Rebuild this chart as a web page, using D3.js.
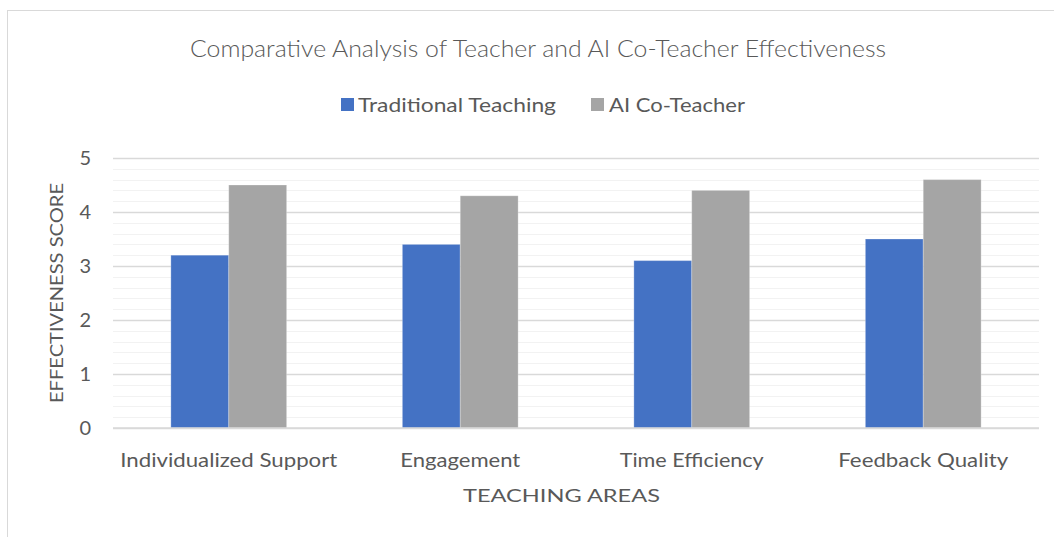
<!doctype html>
<html lang="en">
<head>
<meta charset="utf-8">
<title>Teacher vs AI Co-Teacher</title>
<script src="https://cdnjs.cloudflare.com/ajax/libs/d3/7.8.5/d3.min.js"></script>
<style>
  body { margin: 0; background: #fff; }
  svg { display: block; font-family: Lato, "Open Sans", sans-serif; }
</style>
</head>
<body>
<svg width="1054" height="537"></svg>
<script>
// data
const categories = ["Individualized Support", "Engagement", "Time Efficiency", "Feedback Quality"];
const seriesNames = ["Traditional Teaching", "AI Co-Teacher"];
const traditional = [3.2, 3.4, 3.1, 3.5];
const aiCoTeacher = [4.5, 4.3, 4.4, 4.6];
const yTicks = [0, 1, 2, 3, 4, 5];
const colors = ["#4472C4", "#A5A5A5"];

const rows = categories.map((c, i) => ({cat: c, values: [traditional[i], aiCoTeacher[i]]}));

const svg = d3.select("svg");
const plot = {left: 113, right: 1039, top: 158, bottom: 428};

// chart border
svg.append("rect")
  .attr("x", 7.5).attr("y", 10.5)
  .attr("width", 1100).attr("height", 600)
  .attr("fill", "none").attr("stroke", "#d9d9d9");

const x = d3.scaleBand()
  .domain(categories)
  .range([plot.left, plot.right])
  .paddingInner(0.5)
  .paddingOuter(0.25);

const xs = d3.scaleBand()
  .domain(d3.range(seriesNames.length))
  .range([0, x.bandwidth()]);

const y = d3.scaleLinear().domain([0, 5]).range([plot.bottom, plot.top]);

// minor gridlines
svg.append("g")
  .selectAll("line")
  .data(d3.range(0, 5.01, 0.2).filter(v => Math.abs(v - Math.round(v)) > 0.01))
  .join("line")
  .attr("x1", plot.left).attr("x2", plot.right)
  .attr("y1", d => Math.round(y(d)) + 0.5).attr("y2", d => Math.round(y(d)) + 0.5)
  .attr("stroke", "#f2f2f2");

// major gridlines via axis
const yAxis = svg.append("g")
  .attr("transform", `translate(${plot.left},0)`)
  .call(d3.axisLeft(y).tickValues(yTicks).tickFormat(d3.format("d"))
    .tickSize(-(plot.right - plot.left)).tickPadding(22));
yAxis.select(".domain").remove();
yAxis.selectAll(".tick line").attr("stroke", "#d9d9d9").attr("stroke-width", 1.3);
yAxis.selectAll(".tick text")
  .attr("fill", "#595959")
  .style("font-size", "20px")
  .style("font-family", "Lato, 'Open Sans', sans-serif");

// bars
svg.append("g")
  .selectAll("g")
  .data(rows)
  .join("g")
  .attr("transform", d => `translate(${x(d.cat)},0)`)
  .selectAll("rect")
  .data(d => d.values)
  .join("rect")
  .attr("x", (d, i) => xs(i))
  .attr("width", xs.bandwidth())
  .attr("y", d => y(d))
  .attr("height", d => y(0) - y(d))
  .attr("fill", (d, i) => colors[i])
  .attr("stroke", "#fff").attr("stroke-opacity", 0.25);

// x axis line
svg.append("line")
  .attr("x1", plot.left).attr("x2", plot.right)
  .attr("y1", y(0)).attr("y2", y(0))
  .attr("stroke", "#d9d9d9").attr("stroke-width", 1.3);

// category labels
const catWidths = [217, 120, 144, 170];
svg.append("g")
  .selectAll("text")
  .data(categories)
  .join("text")
  .attr("x", d => x(d) + x.bandwidth() / 2)
  .attr("y", 467)
  .attr("text-anchor", "middle")
  .attr("fill", "#595959")
  .style("font-size", "20px")
  .attr("textLength", (d, i) => catWidths[i])
  .attr("lengthAdjust", "spacingAndGlyphs")
  .text(d => d);

// title
svg.append("text")
  .attr("x", 538).attr("y", 57)
  .attr("text-anchor", "middle")
  .attr("fill", "#595959")
  .style("font-size", "24px")
  .style("font-weight", 300)
  .attr("textLength", 696)
  .attr("lengthAdjust", "spacingAndGlyphs")
  .text("Comparative Analysis of Teacher and AI Co-Teacher Effectiveness");

// legend
const legendItems = [
  {name: seriesNames[0], box: 341, tx: 358, w: 198},
  {name: seriesNames[1], box: 591, tx: 609, w: 136}
];
const legend = svg.append("g");
legend.selectAll("rect")
  .data(legendItems)
  .join("rect")
  .attr("x", d => d.box).attr("y", 98)
  .attr("width", 13).attr("height", 13)
  .attr("fill", (d, i) => colors[i]);
legend.selectAll("text")
  .data(legendItems)
  .join("text")
  .attr("x", d => d.tx).attr("y", 112)
  .attr("fill", "#595959")
  .style("font-size", "20px")
  .attr("textLength", d => d.w)
  .attr("lengthAdjust", "spacingAndGlyphs")
  .text(d => d.name);

// axis titles
svg.append("text")
  .attr("x", 561.5).attr("y", 502)
  .attr("text-anchor", "middle")
  .attr("fill", "#595959")
  .style("font-size", "18px")
  .attr("textLength", 197)
  .attr("lengthAdjust", "spacingAndGlyphs")
  .text("TEACHING AREAS");

svg.append("text")
  .attr("transform", "translate(63,293) rotate(-90)")
  .attr("text-anchor", "middle")
  .attr("fill", "#595959")
  .style("font-size", "18px")
  .attr("textLength", 220)
  .attr("lengthAdjust", "spacingAndGlyphs")
  .text("EFFECTIVENESS SCORE");
</script>
</body>
</html>
